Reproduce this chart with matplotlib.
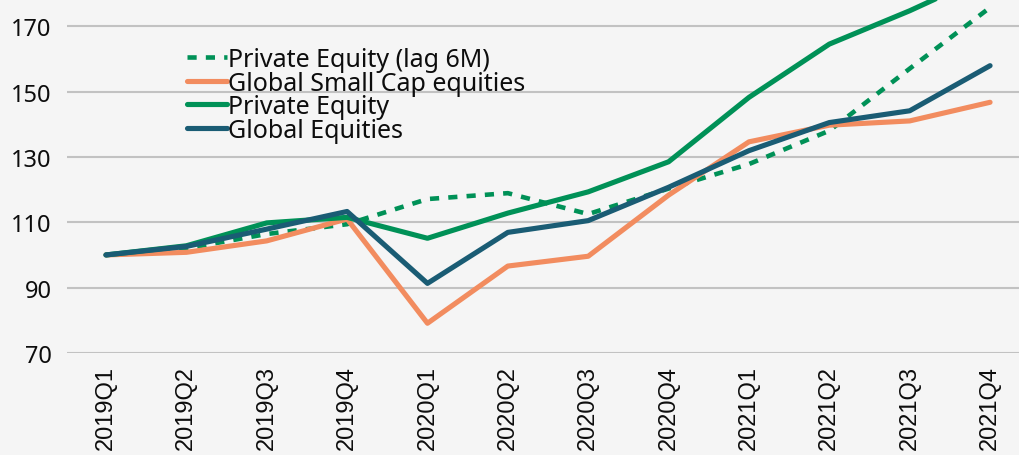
import matplotlib
matplotlib.use("Agg")
import numpy as np
import matplotlib.pyplot as plt

# quarters on the x axis
quarters = ["2019Q1", "2019Q2", "2019Q3", "2019Q4",
            "2020Q1", "2020Q2", "2020Q3", "2020Q4",
            "2021Q1", "2021Q2", "2021Q3", "2021Q4"]

# index values (2019Q1 = 100)
pe_lag6m = [100, 102.0, 106.4, 109.4, 117.1, 118.9, 112.5, 120.3, 127.8, 138.0, 157.0, 175.7]
small_cap = [100, 100.8, 104.3, 111.0, 79.1, 96.6, 99.6, 118.3, 134.6, 139.7, 141.0, 146.7]
private_eq = [100, 102.8, 109.8, 111.5, 105.1, 112.8, 119.3, 128.5, 148.2, 164.5, 174.7, 186.0]
global_eq = [100, 102.6, 107.9, 113.3, 91.3, 106.9, 110.5, 120.7, 131.9, 140.5, 144.1, 157.9]

yticks = [70, 90, 110, 130, 150, 170]

green = "#009157"
orange = "#F28C5F"
blue = "#1A5C74"
bg = "#F5F5F5"

fig = plt.figure(figsize=(10.19, 4.56), dpi=100, facecolor=bg)
ax = fig.add_axes([67 / 1019, 102 / 456, 952 / 1019, 354 / 456], facecolor=bg)

x = np.arange(len(quarters))
lw = 3.7
ax.plot(x, pe_lag6m, color=green, lw=3.3, linestyle=(0, (2.0, 2.0)),
        dash_capstyle="butt", label="Private Equity (lag 6M)", zorder=3)
ax.plot(x, small_cap, color=orange, lw=lw, solid_capstyle="round",
        label="Global Small Cap equities", zorder=3)
ax.plot(x, private_eq, color=green, lw=lw, solid_capstyle="round",
        label="Private Equity", zorder=3)
ax.plot(x, global_eq, color=blue, lw=lw, solid_capstyle="round",
        label="Global Equities", zorder=4)

ax.set_xlim(-0.485, 11.36)
ax.set_ylim(70, 178.3)
ax.set_yticks(yticks)
ax.set_xticks(x)
ax.set_xticklabels(quarters, rotation=90, fontsize=17, family="Liberation Sans")
for lab in ax.get_yticklabels():
    lab.set_family("Noto Sans")
    lab.set_fontsize(17)
    lab.set_fontweight("medium")

ax.tick_params(axis="both", length=0, labelcolor="#0d0d0d")
ax.tick_params(axis="y", pad=11)
ax.tick_params(axis="x", pad=9)
ax.yaxis.grid(True, color="#C2C2C2", lw=1.5)
ax.set_axisbelow(True)
for s in ax.spines.values():
    s.set_visible(False)

# legend rows sit tight together, as in the original
leg = ax.legend(loc="upper left", bbox_to_anchor=(0.126, 0.864), frameon=False,
                prop={"family": "Noto Sans", "size": 18},
                handlelength=1.6, handletextpad=0.05, labelspacing=-0.06,
                borderpad=0, borderaxespad=0)
for t in leg.get_texts():
    t.set_color("#0d0d0d")

fig.savefig("out.png", dpi=100, facecolor=bg)
